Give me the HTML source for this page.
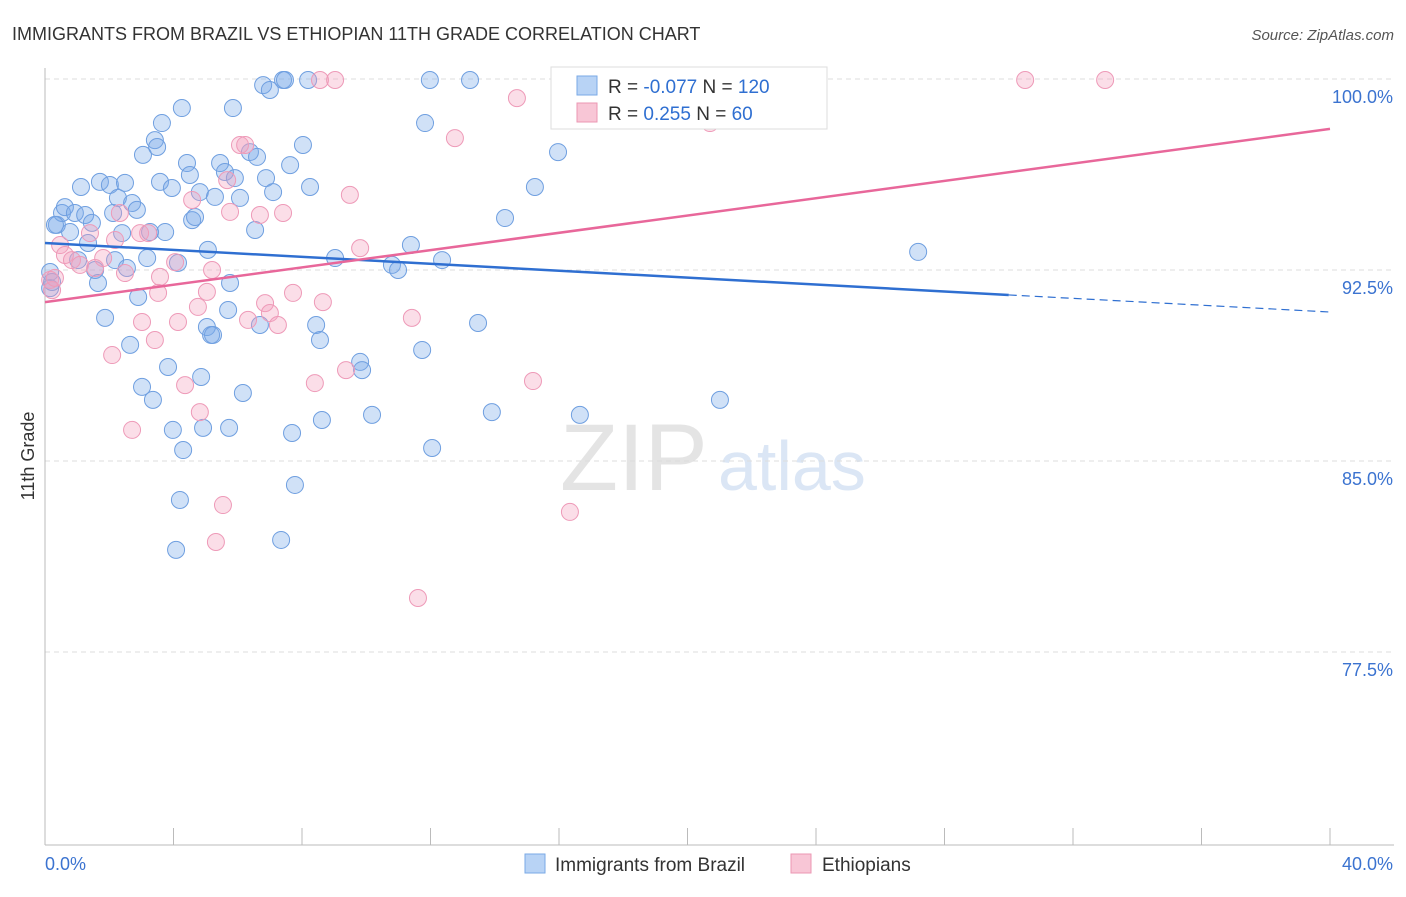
<!DOCTYPE html>
<html><head><meta charset="utf-8"><style>
body{margin:0;background:#fff;font-family:"Liberation Sans",sans-serif}
svg text{font-family:"Liberation Sans",sans-serif}
</style></head><body>
<svg id="c" width="1406" height="892">
<text x="12" y="40" font-size="18" fill="#333">IMMIGRANTS FROM BRAZIL VS ETHIOPIAN 11TH GRADE CORRELATION CHART</text>
<text x="1394" y="40" font-size="15" fill="#555" text-anchor="end" font-style="italic">Source: ZipAtlas.com</text>
<text x="34" y="456" font-size="18" fill="#333" text-anchor="middle" transform="rotate(-90 34 456)">11th Grade</text>
<text x="560" y="490" font-size="95" fill="#e4e4e4" font-family="Liberation Serif">ZIP</text>
<text x="718" y="490" font-size="70" fill="#dbe6f5">atlas</text>
<g id="grid"></g><g id="pts"></g><g id="lines"></g>
<g>
<rect x="551" y="67" width="276" height="62" fill="#fff" stroke="#ddd"/>
<rect x="577" y="76" width="20" height="19" fill="#b8d3f5" stroke="#7aaae6"/>
<rect x="577" y="103" width="20" height="19" fill="#f8c6d6" stroke="#eb97b3"/>
<text x="608" y="93" font-size="19" fill="#333">R = <tspan fill="#2f6fd1">-0.077</tspan>   N = <tspan fill="#2f6fd1">120</tspan></text>
<text x="608" y="120" font-size="19" fill="#333">R =  <tspan fill="#2f6fd1"> 0.255</tspan>   N =  <tspan fill="#2f6fd1"> 60</tspan></text>
</g>
<g>
<rect x="525" y="854" width="20" height="19" fill="#b8d3f5" stroke="#7aaae6"/>
<text x="555" y="871" font-size="19" fill="#333">Immigrants from Brazil</text>
<rect x="791" y="854" width="20" height="19" fill="#f8c6d6" stroke="#eb97b3"/>
<text x="822" y="871" font-size="19" fill="#333">Ethiopians</text>
</g>
</svg>
<script>
const yTicks=[100,92.5,85,77.5];
const yTickLabels=["100.0%","92.5%","85.0%","77.5%"];
const xTickLabels=["0.0%","40.0%"];
const brazilX=[0.37,0.53,0.62,0.78,0.93,1.03,1.12,1.25,1.34,1.46,1.56,1.65,1.71,1.87,2.02,2.12,2.18,2.27,2.40,2.49,2.55,2.65,2.71,2.86,2.90,3.02,3.05,3.18,3.27,3.36,3.42,3.49,3.58,3.64,3.74,3.83,3.95,3.98,4.08,4.14,4.20,4.26,4.30,4.42,4.51,4.58,4.67,4.82,4.86,4.92,5.04,5.07,5.17,5.23,5.29,5.45,5.60,5.70,5.73,5.76,5.85,5.91,6.07,6.16,6.38,6.54,6.60,6.69,6.79,6.88,7.00,7.10,7.35,7.41,7.47,7.63,7.69,7.78,8.03,8.19,8.25,8.44,8.56,8.62,9.03,9.81,9.87,10.18,10.80,10.99,11.39,11.74,11.83,11.98,12.05,12.36,13.23,13.48,13.91,14.32,15.25,15.97,16.22,16.65,21.01,27.18,0.16,0.16,0.22,0.31];
const brazilY=[94.27,94.74,94.97,93.99,94.74,92.89,95.76,94.66,93.56,94.35,92.50,91.99,95.96,90.62,95.84,94.74,92.89,95.33,93.95,95.92,92.58,89.56,95.13,94.86,91.44,87.91,97.02,92.97,93.99,87.40,97.60,97.33,95.96,98.27,93.99,88.69,95.72,86.22,81.51,92.78,83.47,98.86,85.43,96.70,96.23,94.46,94.58,95.56,88.30,86.30,90.26,93.29,89.95,89.95,95.37,96.70,96.35,90.93,86.30,91.99,98.86,96.11,95.33,87.67,97.13,94.07,96.94,90.34,99.76,96.11,99.57,95.56,81.90,99.96,99.96,96.62,86.10,84.06,97.41,99.96,95.76,90.34,89.75,86.61,92.97,88.89,88.57,86.81,92.70,92.50,93.48,89.36,98.27,99.96,85.51,92.89,99.96,90.42,86.92,94.54,95.76,97.13,99.96,86.81,87.40,93.21,92.42,91.79,92.03,94.27];
const ethX=[0.16,0.22,0.31,0.47,0.62,0.84,1.09,1.40,1.56,1.81,2.09,2.18,2.33,2.49,2.71,2.96,3.02,3.21,3.42,3.52,3.58,4.05,4.14,4.36,4.58,4.76,4.82,5.04,5.20,5.32,5.54,5.67,5.76,6.07,6.23,6.32,6.69,6.85,7.00,7.25,7.41,7.72,8.40,8.56,8.65,9.03,9.37,9.49,9.81,11.42,11.61,12.76,14.69,15.19,16.34,20.70,30.51,33.00];
const ethY=[92.11,91.71,92.19,93.48,93.09,92.89,92.70,93.95,92.58,92.97,89.16,93.68,94.74,92.38,86.22,93.95,90.46,93.95,89.75,91.60,92.23,92.81,90.46,87.98,95.25,91.05,86.92,91.64,92.50,81.82,83.27,96.03,94.78,97.41,97.41,90.54,94.66,91.20,90.81,90.34,94.74,91.60,88.06,99.96,91.24,99.96,88.57,95.45,93.36,90.62,79.62,97.68,99.25,88.14,83.00,98.27,99.96,99.96];
const brazilTrend=[93.56,91.52,90.85]; // at x=0, 30, 40
const ethTrend=[91.24,98.04]; // at x=0, 40
const NS="http://www.w3.org/2000/svg";
const X=v=>45+v/40*1285, Y=v=>79+(100-v)/7.5*191;
function mk(tag,at,parent){const e=document.createElementNS(NS,tag);for(const k in at)e.setAttribute(k,at[k]);parent.appendChild(e);return e;}
const g=document.getElementById('grid');
yTicks.forEach((t,i)=>{
 const l=mk('line',{x1:45,x2:1394,y1:Y(t),y2:Y(t),stroke:'#ddd','stroke-dasharray':'5,4'},g);
 
 
 const tx=mk('text',{x:1393,y:Y(t)+24,'font-size':18,fill:'#3b73d0','text-anchor':'end'},g);tx.textContent=yTickLabels[i];
 
 
});
const ax=mk('line',{x1:45,x2:1394,y1:845,y2:845,stroke:'#bbb'},g);


const ay=mk('line',{x1:45,x2:45,y1:68,y2:845,stroke:'#bbb'},g);


for(let i=0;i<=10;i++){const t=mk('line',{x1:X(i*4),x2:X(i*4),y1:828,y2:845,stroke:'#bbb'},g);
 
 }
[[0,'start',45],[1,'end',1393]].forEach(([i,a,x])=>{const t=mk('text',{x:x,y:870,'font-size':18,fill:'#3b73d0','text-anchor':a},g);t.textContent=xTickLabels[i];
 
 });
const p=document.getElementById('pts');
brazilX.forEach((x,i)=>{const c=mk('circle',{cx:X(x),cy:Y(brazilY[i]),r:8.5,fill:'rgba(120,168,232,0.35)',stroke:'#6f9fe0','stroke-width':1},p);
 
 });
ethX.forEach((x,i)=>{const c=mk('circle',{cx:X(x),cy:Y(ethY[i]),r:8.5,fill:'rgba(244,160,190,0.35)',stroke:'#ee9ab8','stroke-width':1},p);
 
 });
const L=document.getElementById('lines');
const b1=mk('line',{x1:X(0),y1:Y(brazilTrend[0]),x2:X(30),y2:Y(brazilTrend[1]),stroke:'#2f6fd1','stroke-width':2.5},L);


const b2=mk('line',{x1:X(30),y1:Y(brazilTrend[1]),x2:X(40),y2:Y(brazilTrend[2]),stroke:'#2f6fd1','stroke-width':1.2,'stroke-dasharray':'8,5'},L);


const e1=mk('line',{x1:X(0),y1:Y(ethTrend[0]),x2:X(40),y2:Y(ethTrend[1]),stroke:'#e8679a','stroke-width':2.5},L);


</script>
</body></html>
